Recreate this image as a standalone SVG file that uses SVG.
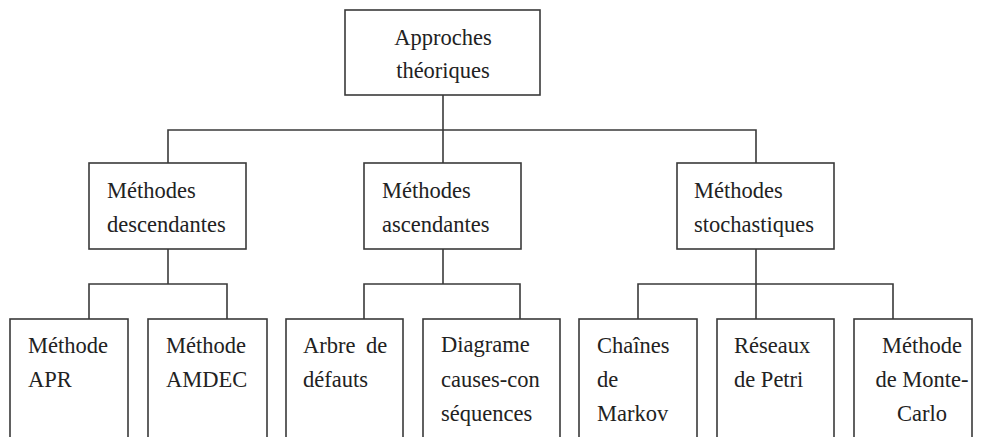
<svg xmlns="http://www.w3.org/2000/svg" width="984" height="437" viewBox="0 0 984 437">
  <style>
    .box { fill: #ffffff; stroke: #3a3a3a; stroke-width: 1.6; }
    .wire { fill: none; stroke: #3a3a3a; stroke-width: 1.6; }
    .lbl { font-family: 'Liberation Serif', 'DejaVu Serif', serif; font-size: 22.5px; fill: #222222; }
    .mid { text-anchor: middle; }
  </style>
  <rect width="984" height="437" fill="#ffffff"/>

  <!-- tree connectors -->
  <g id="connectors" class="wire">
    <path d="M443 95 V130"/>
    <path d="M168 163 V130 H756 V163"/>
    <path d="M443 130 V163"/>
    <!-- descendantes branch -->
    <path d="M168 249 V284"/>
    <path d="M89 319 V284 H227 V319"/>
    <!-- ascendantes branch -->
    <path d="M443 249 V284"/>
    <path d="M364 319 V284 H520 V319"/>
    <!-- stochastiques branch -->
    <path d="M756 249 V319"/>
    <path d="M638 319 V284 H893 V319"/>
  </g>

  <g id="root">
    <rect class="box" x="345" y="10" width="195" height="85"/>
    <text class="lbl mid" x="443" y="45">Approches</text>
    <text class="lbl mid" x="443" y="78">théoriques</text>
  </g>

  <g id="descendantes">
    <rect class="box" x="89" y="163" width="157" height="86"/>
    <text class="lbl" x="107" y="198">Méthodes</text>
    <text class="lbl" x="107" y="232">descendantes</text>
  </g>

  <g id="ascendantes">
    <rect class="box" x="364" y="163" width="157" height="86"/>
    <text class="lbl" x="382" y="198">Méthodes</text>
    <text class="lbl" x="382" y="232">ascendantes</text>
  </g>

  <g id="stochastiques">
    <rect class="box" x="677" y="163" width="157" height="86"/>
    <text class="lbl" x="694" y="198">Méthodes</text>
    <text class="lbl" x="694" y="232">stochastiques</text>
  </g>

  <g id="apr">
    <rect class="box" x="10" y="319" width="118" height="130"/>
    <text class="lbl" x="28" y="353">Méthode</text>
    <text class="lbl" x="28" y="387">APR</text>
  </g>

  <g id="amdec">
    <rect class="box" x="148" y="319" width="119" height="130"/>
    <text class="lbl" x="166" y="353">Méthode</text>
    <text class="lbl" x="166" y="387">AMDEC</text>
  </g>

  <g id="arbre">
    <rect class="box" x="286" y="319" width="117" height="130"/>
    <text class="lbl" x="303" y="353" word-spacing="5">Arbre de</text>
    <text class="lbl" x="303" y="387">défauts</text>
  </g>

  <g id="diagramme">
    <rect class="box" x="423" y="319" width="137" height="130"/>
    <text class="lbl" x="441" y="352">Diagrame</text>
    <text class="lbl" x="441" y="387">causes-con</text>
    <text class="lbl" x="441" y="421">séquences</text>
  </g>

  <g id="markov">
    <rect class="box" x="579" y="319" width="118" height="130"/>
    <text class="lbl" x="597" y="353">Chaînes</text>
    <text class="lbl" x="597" y="387">de</text>
    <text class="lbl" x="597" y="421">Markov</text>
  </g>

  <g id="petri">
    <rect class="box" x="717" y="319" width="117" height="130"/>
    <text class="lbl" x="734" y="353">Réseaux</text>
    <text class="lbl" x="734" y="387">de Petri</text>
  </g>

  <g id="montecarlo">
    <rect class="box" x="854" y="319" width="118" height="130"/>
    <text class="lbl mid" x="922" y="353">Méthode</text>
    <text class="lbl mid" x="922" y="387">de Monte-</text>
    <text class="lbl mid" x="922" y="421">Carlo</text>
  </g>
</svg>
